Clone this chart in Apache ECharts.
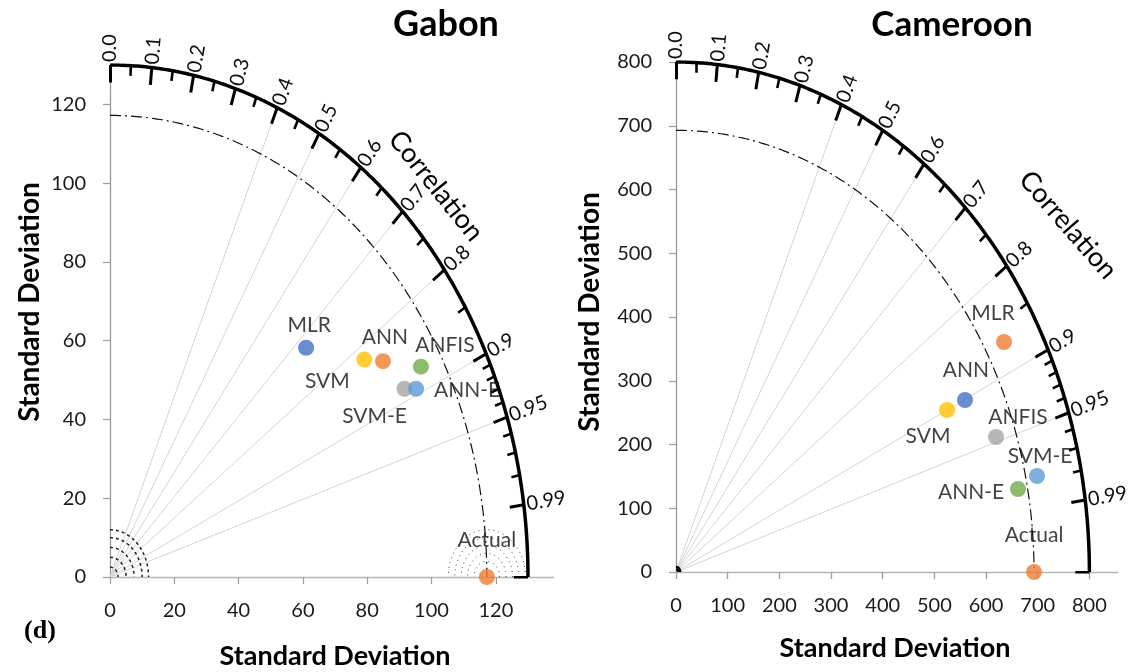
<!DOCTYPE html>
<html>
<head>
<meta charset="utf-8">
<script src="https://cdn.jsdelivr.net/npm/echarts@6/dist/echarts.min.js"></script>
<style>
  html, body { margin: 0; padding: 0; background: #ffffff; }
  #chart { width: 1131px; height: 672px; }
</style>
</head>
<body>
<div id="chart"></div>
<script>
// ---- data -------------------------------------------------------------
const models = ['MLR', 'SVM', 'ANN', 'ANFIS', 'SVM-E', 'ANN-E', 'Actual'];

// Gabon: point positions in standard-deviation space (x, y)
const gabonX = [61.0, 79.1, 84.9, 96.7, 91.6, 95.2, 117.2];
const gabonY = [58.2, 55.2, 54.8, 53.4, 47.8, 47.8, 0];

// Cameroon: point positions in standard-deviation space (x, y)
const cameroonX = [634.8, 524.5, 559.3, 619.3, 698.7, 661.9, 692.9];
const cameroonY = [360.8, 254.1, 269.8, 211.8, 150.6, 130.2, 0];

// axis tick labels
const gabonStdTicks = [0, 20, 40, 60, 80, 100, 120];
const cameroonStdTicks = [0, 100, 200, 300, 400, 500, 600, 700, 800];
const corrTicks = [0, 0.1, 0.2, 0.3, 0.4, 0.5, 0.6, 0.7, 0.8, 0.9, 0.95, 0.99];
const corrTickLabels = ['0.0', '0.1', '0.2', '0.3', '0.4', '0.5', '0.6', '0.7', '0.8', '0.9', '0.95', '0.99'];
const corrMinorTicks = [0.05, 0.15, 0.25, 0.35, 0.45, 0.55, 0.65, 0.75, 0.85, 0.91, 0.92, 0.93, 0.94, 0.96, 0.97, 0.98];
const corrGridLines = [0.4, 0.5, 0.6, 0.7, 0.8, 0.9, 0.95];

// ---- styles -----------------------------------------------------------
const C = { blue: '#4472C4', orange: '#ED7D31', grey: '#A5A5A5', yellow: '#FFC000', lightBlue: '#5B9BD5', green: '#70AD47' };
const gabonColors = [C.blue, C.yellow, C.orange, C.green, C.grey, C.lightBlue, C.orange];
const cameroonColors = [C.orange, C.yellow, C.blue, C.grey, C.lightBlue, C.green, C.orange];
const gabonLabelOffsets = [[3, -23], [-37, 22], [2, -24], [24, -21], [-30, 27], [51, 1], [0, -37]];
const cameroonLabelOffsets = [[-11, -29], [-19, 26], [1, -30], [22, -20], [3, -20], [-47, 3], [0, -37]];

const FONT = 'Lato, "Open Sans", sans-serif';
const TXT = '#111111';

// ---- geometry helpers -------------------------------------------------
function arc(cx, cy, r, a0, a1, n) {
  const pts = [];
  for (let i = 0; i <= n; i++) {
    const a = a0 + (a1 - a0) * i / n;
    pts.push([cx + r * Math.cos(a), cy + r * Math.sin(a)]);
  }
  return pts;
}
function radial(c, r0, r1) {
  const s = Math.sqrt(Math.max(0, 1 - c * c));
  return [[r0 * c, r0 * s], [r1 * c, r1 * s]];
}

function panelSeries(idx, R, refStd, xs, ys, colors, offsets, stipple) {
  const common = { xAxisIndex: idx, yAxisIndex: idx, silent: true, animation: false };
  const series = [];
  // radial correlation lines
  series.push(Object.assign({
    type: 'lines', coordinateSystem: 'cartesian2d', z: 1,
    lineStyle: { color: '#d4d4d4', width: 1, opacity: 1 },
    data: corrGridLines.map(c => ({ coords: radial(c, 0, R) }))
  }, common));
  // reference standard deviation arc (dash-dot)
  series.push(Object.assign({
    type: 'lines', coordinateSystem: 'cartesian2d', polyline: true, z: 2,
    lineStyle: { color: '#111', width: 1.2, opacity: 1, type: [11, 4, 2, 4] },
    data: [{ coords: arc(0, 0, refStd, Math.PI / 2, 0, 200) }]
  }, common));
  // outer correlation arc
  series.push(Object.assign({
    type: 'lines', coordinateSystem: 'cartesian2d', polyline: true, z: 3,
    lineStyle: { color: '#000', width: 3.5, opacity: 1 },
    data: [{ coords: arc(0, 0, R, Math.PI / 2, 0, 240) }]
  }, common));
  // major ticks
  series.push(Object.assign({
    type: 'lines', coordinateSystem: 'cartesian2d', z: 3,
    lineStyle: { color: '#000', width: 3, opacity: 1 },
    data: corrTicks.concat([1]).map(c => ({ coords: radial(c, R, R * (1 - 0.034)) }))
  }, common));
  // minor ticks
  series.push(Object.assign({
    type: 'lines', coordinateSystem: 'cartesian2d', z: 3,
    lineStyle: { color: '#000', width: 2.6, opacity: 1 },
    data: corrMinorTicks.map(c => ({ coords: radial(c, R, R * (1 - 0.02)) }))
  }, common));
  // small contour marks near the origin and the reference point
  if (stipple) {
    series.push(Object.assign({
      type: 'lines', coordinateSystem: 'cartesian2d', polyline: true, z: 2,
      lineStyle: { color: '#222', width: 1.5, opacity: 1, type: [3, 3] },
      data: [2.5, 5, 7.5, 10, 12].map(r => ({ coords: arc(0, 0, r, Math.PI / 2, 0, 30) }))
    }, common));
    series.push(Object.assign({
      type: 'lines', coordinateSystem: 'cartesian2d', polyline: true, z: 2,
      lineStyle: { color: '#444', width: 1, opacity: 1, type: [1, 4] },
      data: [2, 4, 6, 8, 10, 12].map(r => ({ coords: arc(refStd, 0, r, 0, Math.PI, 40) }))
    }, common));
  } else {
    series.push(Object.assign({
      type: 'lines', coordinateSystem: 'cartesian2d', polyline: true, z: 2,
      lineStyle: { color: '#000', width: 2.5, opacity: 1 },
      data: [4, 8].map(r => ({ coords: arc(0, 0, r, Math.PI / 2, 0, 12) }))
    }, common));
  }
  // correlation tick labels
  series.push(Object.assign({
    type: 'custom', z: 4,
    data: corrTicks.map((c, i) => [c, i]),
    renderItem: function (params, api) {
      const c = api.value(0);
      const i = api.value(1);
      const s = Math.sqrt(1 - c * c);
      const p0 = api.coord([0, 0]);
      const p = api.coord([R * c, R * s]);
      const dx = p[0] - p0[0], dy = p[1] - p0[1];
      const len = Math.hypot(dx, dy);
      const gap = 3;
      return {
        type: 'text',
        x: p[0] + dx / len * gap,
        y: p[1] + dy / len * gap,
        rotation: Math.atan2(-dy, dx),
        style: { text: corrTickLabels[i], fill: '#0d0d0d', font: '20px ' + FONT, align: 'left', verticalAlign: 'middle' }
      };
    }
  }, common, { encode: { x: 0, y: 1 } }));
  // model points
  series.push({
    type: 'scatter', xAxisIndex: idx, yAxisIndex: idx, z: 10, animation: false,
    symbolSize: 16,
    label: {
      show: true, position: 'inside', formatter: '{b}', fontSize: 21, fontFamily: FONT,
      color: TXT, textBorderWidth: 0, textShadowBlur: 0
    },
    data: models.map((m, i) => ({
      name: m,
      value: [xs[i], ys[i]],
      itemStyle: { color: colors[i] },
      label: { offset: offsets[i] }
    }))
  });
  return series;
}

function stdAxis(idx, max, ticks, lineColor) {
  return {
    gridIndex: idx, type: 'value', min: 0, max: max,
    axisLine: { show: true, onZero: false, lineStyle: { color: lineColor, width: 1.3 } },
    axisTick: { show: true, customValues: ticks, length: 7, lineStyle: { color: '#a0a0a0', width: 1.3 } },
    axisLabel: { customValues: ticks, fontSize: 20, fontFamily: FONT, color: '#1a1a1a', margin: 24 },
    splitLine: { show: false }
  };
}

function text(t, x, y, font, rot) {
  return {
    type: 'text', x: x, y: y, rotation: rot || 0, silent: true,
    style: { text: t, font: font, fill: '#000', align: 'center', verticalAlign: 'middle' }
  };
}

const chart = echarts.init(document.getElementById('chart'), null, { renderer: 'canvas' });
chart.setOption({
  backgroundColor: '#ffffff',
  animation: false,
  grid: [
    { left: 110, top: 65, width: 443.7, height: 512 },
    { left: 676, top: 62, width: 441.8, height: 510 }
  ],
  xAxis: [
    stdAxis(0, 138, gabonStdTicks, '#b5b5b5'),
    stdAxis(1, 855, cameroonStdTicks, '#b5b5b5')
  ],
  yAxis: [
    stdAxis(0, 130, gabonStdTicks, '#999999'),
    stdAxis(1, 800, cameroonStdTicks, '#999999')
  ],
  series: [].concat(
    panelSeries(0, 130, gabonX[6], gabonX, gabonY, gabonColors, gabonLabelOffsets, true),
    panelSeries(1, 800, cameroonX[6], cameroonX, cameroonY, cameroonColors, cameroonLabelOffsets, false)
  ),
  graphic: [
    text('Gabon', 446, 24, 'bold 36px ' + FONT),
    text('Cameroon', 952, 25, 'bold 35px ' + FONT),
    text('Correlation', 436, 186, '27px ' + FONT, -51 * Math.PI / 180),
    text('Correlation', 1068, 225, '27px ' + FONT, -49 * Math.PI / 180),
    text('Standard Deviation', 30, 302, 'bold 28px ' + FONT, Math.PI / 2),
    text('Standard Deviation', 590, 312, 'bold 28px ' + FONT, Math.PI / 2),
    text('Standard Deviation', 335, 656, 'bold 27px ' + FONT),
    text('Standard Deviation', 895, 648, 'bold 27px ' + FONT),
    text('(d)', 40, 631, 'bold 26px "Liberation Serif", serif')
  ]
});
</script>
</body>
</html>
